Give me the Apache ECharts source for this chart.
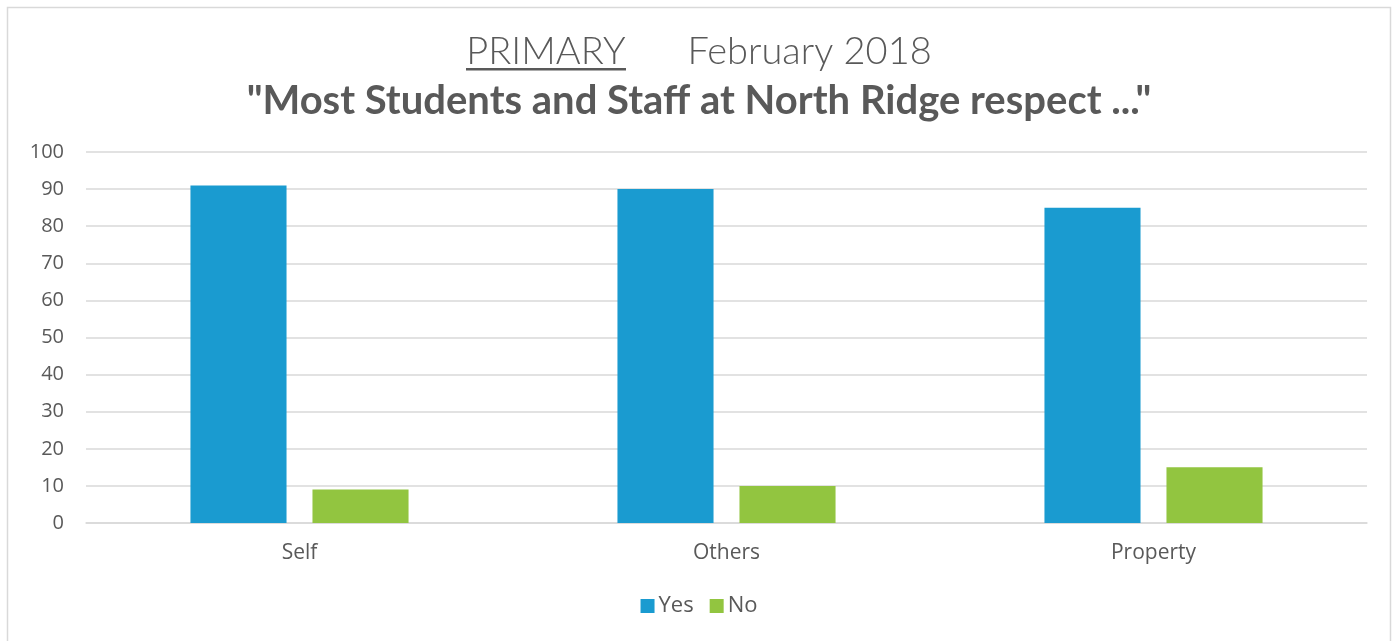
<!DOCTYPE html>
<html><head><meta charset="utf-8">
<script src="https://cdn.jsdelivr.net/npm/echarts@6/dist/echarts.min.js"></script>
<style>html,body{margin:0;padding:0;background:#fff}#c{width:1398px;height:641px}</style>
</head><body><div id="c"></div>
<script>
const categories = ["Self", "Others", "Property"];
const yesValues = [91, 90, 85];
const noValues = [9, 10, 15];
const seriesNames = ["Yes", "No"];
const titleLine1a = "PRIMARY";
const titleLine1b = "February 2018";
const titleLine2 = "\"Most Students and Staff at North Ridge respect ...\"";

const FONT = "Lato";
const SFONT = "Open Sans";
const chart = echarts.init(document.getElementById('c'));
chart.setOption({
  animation: false,
  backgroundColor: '#fff',
  title: [{
    text: '{a|' + titleLine1a + '}{s|      }{b|' + titleLine1b + '}',
    left: 'center', top: 28,
    textStyle: { fontWeight: 300, rich: {
      a: { fontFamily: FONT, fontSize: 38, fontWeight: 300, color: '#595959' },
      s: { fontFamily: FONT, fontSize: 38, fontWeight: 300 },
      b: { fontFamily: FONT, fontSize: 38, fontWeight: 300, color: '#595959', padding: [0,0,0,0] }
    }}
  }, {
    text: titleLine2,
    left: 'center', top: 76,
    textStyle: { fontFamily: FONT, fontSize: 40, fontWeight: 'bold', color: '#595959' }
  }],
  graphic: [{
    type: 'rect', shape: { x: 7.5, y: 7.5, width: 1383, height: 640 },
    style: { fill: 'none', stroke: '#d9d9d9', lineWidth: 1.5 }, silent: true
  }, {
    type: 'rect', shape: { x: 466, y: 68, width: 160, height: 2.5 },
    style: { fill: '#595959' }, silent: true
  }],
  legend: {
    data: seriesNames, bottom: 19, left: 'center',
    itemWidth: 14, itemHeight: 14, itemGap: 16, icon: 'rect',
    textStyle: { fontFamily: SFONT, fontSize: 22, color: '#595959', padding: [0,0,0,-1] }
  },
  grid: { left: 86, right: 31, top: 152, bottom: 118, containLabel: false },
  xAxis: {
    type: 'category', data: categories,
    axisLine: { show: true, lineStyle: { color: '#d9d9d9', width: 1.5 } },
    axisTick: { show: false },
    axisLabel: { fontFamily: SFONT, fontSize: 21, color: '#595959', margin: 20 }
  },
  yAxis: {
    type: 'value', min: 0, max: 100, interval: 10,
    axisLine: { show: false }, axisTick: { show: false },
    splitLine: { lineStyle: { color: '#d9d9d9', width: 1.5 } },
    axisLabel: { fontFamily: SFONT, fontSize: 20, color: '#595959', margin: 22 }
  },
  series: [{
    name: seriesNames[0], type: 'bar', data: yesValues,
    barWidth: '22.5%', barGap: '27%',
    itemStyle: { color: '#1a9bd0' }
  }, {
    name: seriesNames[1], type: 'bar', data: noValues,
    barWidth: '22.5%',
    itemStyle: { color: '#92c540' }
  }]
});
</script></body></html>
